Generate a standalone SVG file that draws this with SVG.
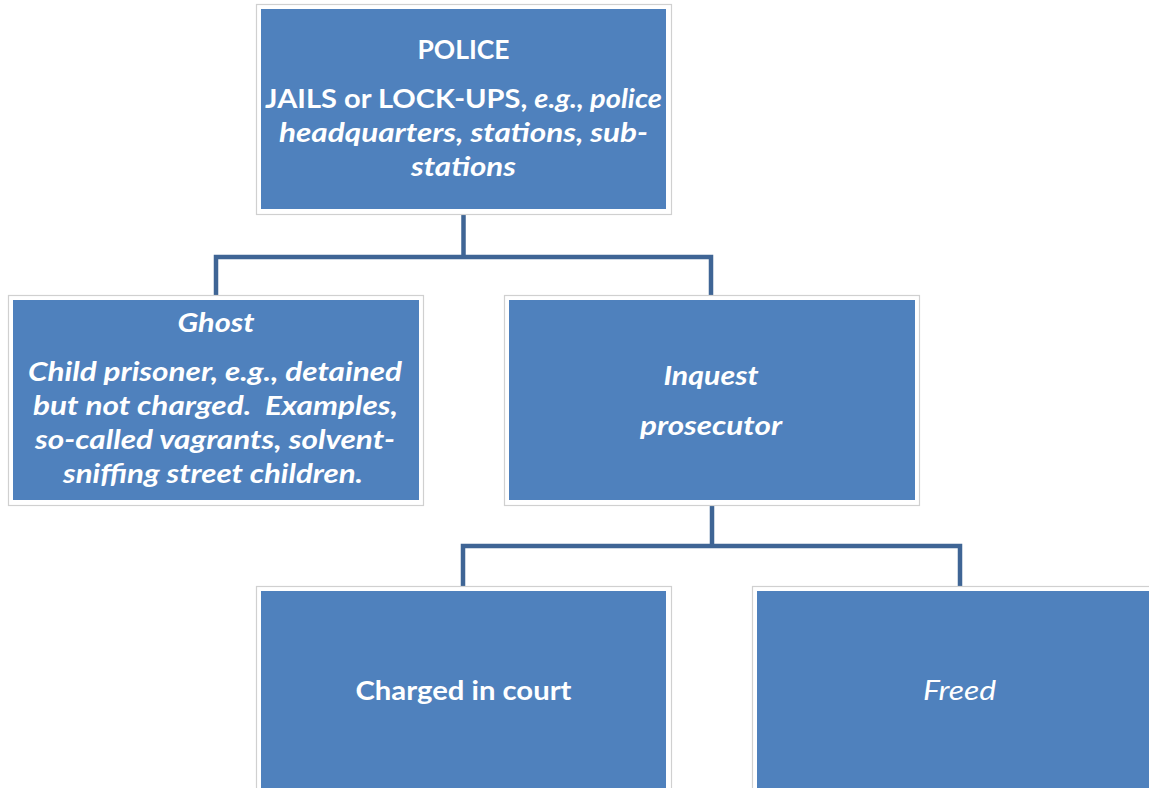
<svg xmlns="http://www.w3.org/2000/svg" width="1149" height="788" viewBox="0 0 1149 788">
<style>
.frame{fill:#ffffff;stroke:#d0d0d0;stroke-width:1.2}
.box{fill:#4f81bd}
.conn{fill:none;stroke:#3f6595;stroke-width:4.5}
text{font-family:Lato,"Open Sans","Liberation Sans",sans-serif;fill:#ffffff;text-anchor:middle;font-size:27px}
.b{font-weight:bold}
.i{font-style:italic}
</style>
<rect width="1149" height="788" fill="#ffffff"/>
<g id="connectors">
<path class="conn" d="M463.5,213 V257 M216,298 V257 H711 V298"/>
<path class="conn" d="M712,503 V546 M463,588 V546 H960 V588"/>
</g>
<g id="police">
<rect class="frame" x="256.5" y="4.5" width="415" height="210"/>
<rect class="box" x="261" y="9" width="405" height="200"/>
<text class="b" x="463.5" y="59" textLength="92" lengthAdjust="spacingAndGlyphs">POLICE</text>
<text class="b" x="463.5" y="108" textLength="397" lengthAdjust="spacingAndGlyphs">JAILS or LOCK-UPS, <tspan class="i">e.g., police</tspan></text>
<text class="b i" x="463.5" y="142" textLength="369" lengthAdjust="spacingAndGlyphs">headquarters, stations, sub-</text>
<text class="b i" x="463.5" y="176" textLength="105" lengthAdjust="spacingAndGlyphs">stations</text>
</g>
<g id="ghost">
<rect class="frame" x="8.5" y="295.5" width="415" height="210"/>
<rect class="box" x="13" y="300" width="406" height="200"/>
<text class="b i" x="216" y="332" textLength="77" lengthAdjust="spacingAndGlyphs">Ghost</text>
<text class="b i" x="215" y="381" textLength="374" lengthAdjust="spacingAndGlyphs">Child prisoner, e.g., detained</text>
<text class="b i" x="215.5" y="415" xml:space="preserve" textLength="365" lengthAdjust="spacingAndGlyphs">but not charged.  Examples,</text>
<text class="b i" x="215" y="449" textLength="360" lengthAdjust="spacingAndGlyphs">so-called vagrants, solvent-</text>
<text class="b i" x="213" y="483" textLength="300" lengthAdjust="spacingAndGlyphs">sniffing street children.</text>
</g>
<g id="inquest">
<rect class="frame" x="504.5" y="295.5" width="415" height="210"/>
<rect class="box" x="509" y="300" width="406" height="200"/>
<text class="b i" x="711" y="385" textLength="95" lengthAdjust="spacingAndGlyphs">Inquest</text>
<text class="b i" x="711" y="435" textLength="142" lengthAdjust="spacingAndGlyphs">prosecutor</text>
</g>
<g id="charged">
<rect class="frame" x="256.5" y="586.5" width="415" height="210"/>
<rect class="box" x="261" y="591" width="405" height="200"/>
<text class="b" x="463.5" y="700" textLength="216" lengthAdjust="spacingAndGlyphs">Charged in court</text>
</g>
<g id="freed">
<rect class="frame" x="752.5" y="586.5" width="415" height="210"/>
<rect class="box" x="757" y="591" width="405" height="200"/>
<text class="i" x="959.5" y="700" textLength="73" lengthAdjust="spacingAndGlyphs">Freed</text>
</g>
</svg>
